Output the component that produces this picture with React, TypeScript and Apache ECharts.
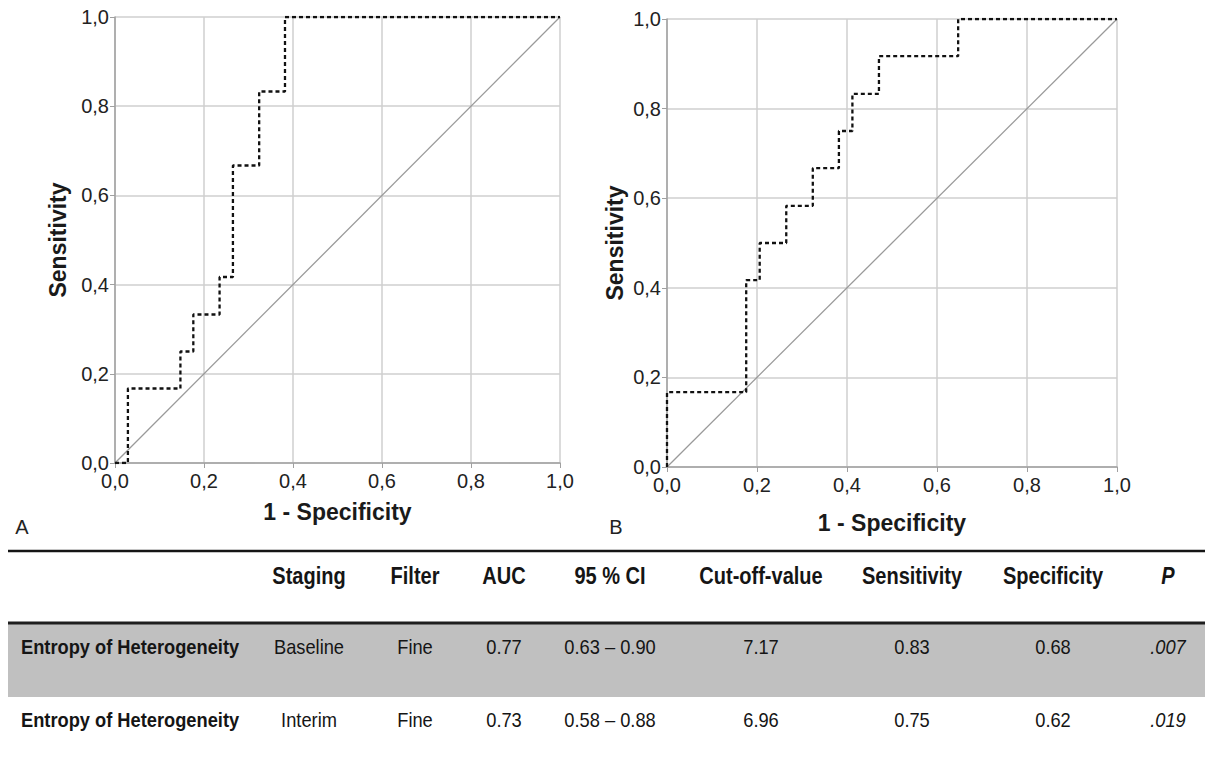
import React, { useEffect, useRef } from "react";
import * as echarts from "echarts";

// ROC curve A (Baseline) – operating points (1 - specificity, sensitivity)
const fprA = [0, 0.029, 0.029, 0.147, 0.147, 0.176, 0.176, 0.235, 0.235, 0.265, 0.265, 0.324, 0.324, 0.382, 0.382, 1.0];
const tprA = [0, 0, 0.167, 0.167, 0.25, 0.25, 0.333, 0.333, 0.417, 0.417, 0.667, 0.667, 0.833, 0.833, 1.0, 1.0];

// ROC curve B (Interim)
const fprB = [0, 0, 0.176, 0.176, 0.206, 0.206, 0.265, 0.265, 0.324, 0.324, 0.382, 0.382, 0.412, 0.412, 0.471, 0.471, 0.647, 0.647, 1.0];
const tprB = [0, 0.167, 0.167, 0.417, 0.417, 0.5, 0.5, 0.583, 0.583, 0.667, 0.667, 0.75, 0.75, 0.833, 0.833, 0.917, 0.917, 1.0, 1.0];

// Reference diagonal
const diagX = [0, 1];
const diagY = [0, 1];

const tickValues = [0, 0.2, 0.4, 0.6, 0.8, 1.0];
const tickLabels = ["0,0", "0,2", "0,4", "0,6", "0,8", "1,0"];

const panelLabels = ["A", "B"];
const xAxisTitle = "1 - Specificity";
const yAxisTitle = "Sensitivity";

// Table
const tableHeaders = ["", "Staging", "Filter", "AUC", "95 % CI", "Cut-off-value", "Sensitivity", "Specificity", "P"];
const rowLabels = ["Entropy of Heterogeneity", "Entropy of Heterogeneity"];
const staging = ["Baseline", "Interim"];
const filterCol = ["Fine", "Fine"];
const aucCol = ["0.77", "0.73"];
const ciCol = ["0.63 – 0.90", "0.58 – 0.88"];
const cutoffCol = ["7.17", "6.96"];
const sensCol = ["0.83", "0.75"];
const specCol = ["0.68", "0.62"];
const pCol = [".007", ".019"];

const FONT = "'Liberation Sans', Arial, sans-serif";

function tickFmt(v: number): string {
  const i = tickValues.findIndex((t) => Math.abs(t - v) < 1e-6);
  return i >= 0 ? tickLabels[i] : "";
}

function makeX(gridIndex: number, nameGap: number) {
  return {
    type: "value",
    gridIndex,
    min: 0,
    max: 1,
    interval: 0.2,
    name: xAxisTitle,
    nameLocation: "middle",
    nameGap,
    nameTextStyle: { fontFamily: FONT, fontSize: 23, fontWeight: "bold", color: "#1a1a1a" },
    axisLine: { show: true, lineStyle: { color: "#a0a0a0", width: 1.5 } },
    axisTick: { show: true, length: 5, lineStyle: { color: "#a0a0a0" } },
    axisLabel: { fontFamily: FONT, fontSize: 20, color: "#222", margin: 8, formatter: tickFmt },
    splitLine: { show: true, lineStyle: { color: "#cfcfcf", width: 1.5 } },
  };
}

function makeY(gridIndex: number, nameGap: number) {
  return {
    type: "value",
    gridIndex,
    min: 0,
    max: 1,
    interval: 0.2,
    name: yAxisTitle,
    nameLocation: "middle",
    nameGap,
    nameTextStyle: { fontFamily: FONT, fontSize: 23, fontWeight: "bold", color: "#1a1a1a" },
    axisLine: { show: true, lineStyle: { color: "#a0a0a0", width: 1.5 } },
    axisTick: { show: true, length: 5, lineStyle: { color: "#a0a0a0" } },
    axisLabel: { fontFamily: FONT, fontSize: 20, color: "#222", margin: 6, formatter: tickFmt },
    splitLine: { show: true, lineStyle: { color: "#cfcfcf", width: 1.5 } },
  };
}

function zip(xs: number[], ys: number[]) {
  return xs.map((x, i) => [x, ys[i]]);
}

export default function App() {
  const ref = useRef<HTMLDivElement>(null);

  useEffect(() => {
    if (!ref.current) return;
    const chart = echarts.init(ref.current, undefined, { renderer: "svg" });

    const colX = [21, 309, 415, 504, 610, 761, 912, 1053, 1168];
    const headerY = 576;
    const rowY = [647, 720];

    const graphics: any[] = [];
    graphics.push({ type: "rect", shape: { x: 8, y: 623, width: 1197, height: 74 }, style: { fill: "#c0c0c0" }, z: 0 });
    graphics.push({ type: "line", shape: { x1: 8, y1: 551, x2: 1205, y2: 551 }, style: { stroke: "#151515", lineWidth: 2.5 }, z: 1 });
    graphics.push({ type: "line", shape: { x1: 8, y1: 623, x2: 1205, y2: 623 }, style: { stroke: "#1e1e1e", lineWidth: 3 }, z: 1 });

    tableHeaders.forEach((h, i) => {
      if (!h) return;
      graphics.push({
        type: "text",
        x: colX[i],
        y: headerY,
        scaleX: 0.87,
        style: {
          text: h,
          fontFamily: FONT,
          fontSize: 23,
          fontWeight: "bold",
          fontStyle: h === "P" ? "italic" : "normal",
          fill: "#151515",
          align: "center",
          verticalAlign: "middle",
        },
        z: 2,
      });
    });

    const cols = [rowLabels, staging, filterCol, aucCol, ciCol, cutoffCol, sensCol, specCol, pCol];
    rowY.forEach((y, r) => {
      cols.forEach((col, i) => {
        graphics.push({
          type: "text",
          x: colX[i],
          y,
          scaleX: 0.87,
          style: {
            text: col[r],
            fontFamily: FONT,
            fontSize: 21,
            fontWeight: i === 0 ? "bold" : "normal",
            fontStyle: i === 8 ? "italic" : "normal",
            fill: "#151515",
            align: i === 0 ? "left" : "center",
            verticalAlign: "middle",
          },
          z: 2,
        });
      });
    });

    graphics.push({ type: "text", x: 22, y: 527, style: { text: panelLabels[0], fontFamily: FONT, fontSize: 20, fill: "#222", align: "center", verticalAlign: "middle" } });
    graphics.push({ type: "text", x: 616, y: 527, style: { text: panelLabels[1], fontFamily: FONT, fontSize: 20, fill: "#222", align: "center", verticalAlign: "middle" } });

    const rocStyle = { color: "#111", width: 2.3, type: [4, 3] as any };
    const diagStyle = { color: "#9a9a9a", width: 1.3, type: "solid" as any };

    chart.setOption({
      animation: false,
      backgroundColor: "#ffffff",
      grid: [
        { left: 115, top: 17, width: 445, height: 446 },
        { left: 667, top: 19, width: 450, height: 448 },
      ],
      xAxis: [makeX(0, 37), makeX(1, 44)],
      yAxis: [makeY(0, 46), makeY(1, 41)],
      series: [
        { type: "line", xAxisIndex: 0, yAxisIndex: 0, data: zip(diagX, diagY), showSymbol: false, lineStyle: diagStyle, z: 2 },
        { type: "line", xAxisIndex: 0, yAxisIndex: 0, data: zip(fprA, tprA), showSymbol: false, lineStyle: rocStyle, z: 3 },
        { type: "line", xAxisIndex: 1, yAxisIndex: 1, data: zip(diagX, diagY), showSymbol: false, lineStyle: diagStyle, z: 2 },
        { type: "line", xAxisIndex: 1, yAxisIndex: 1, data: zip(fprB, tprB), showSymbol: false, lineStyle: rocStyle, z: 3 },
      ],
      graphic: graphics,
    });

    return () => chart.dispose();
  }, []);

  return <div ref={ref} style={{ position: "absolute", left: 0, top: 0, width: 1205, height: 765, background: "#fff" }} />;
}
